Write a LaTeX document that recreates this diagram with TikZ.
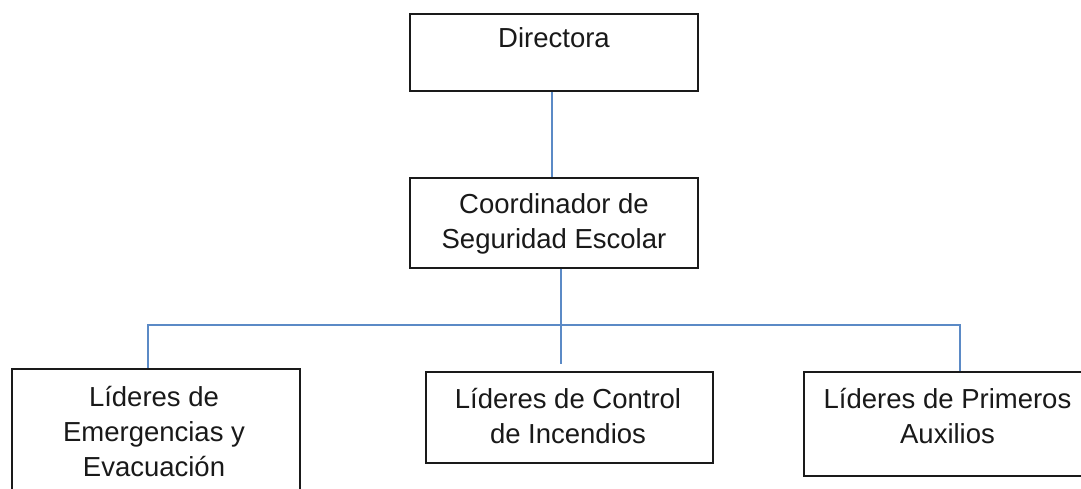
\documentclass[tikz,border=0pt]{standalone}
\usepackage{fontspec}
\setmainfont{Liberation Sans}
\definecolor{conn}{HTML}{5B8AC6}
\definecolor{boxline}{HTML}{1A1A1A}
\begin{document}
\begin{tikzpicture}[x=1pt,y=-1pt,
  orgbox/.style={draw=boxline,line width=1.6pt,rectangle,inner sep=0pt,fill=white},
  lbl/.style={font=\fontsize{27.5}{35}\selectfont,align=center,anchor=base,inner sep=0pt,text=black!90},
  link/.style={draw=conn,line width=1.5pt}]
\useasboundingbox (0,0) rectangle (1081,489);
\clip (0,0) rectangle (1081,489);
\fill[white] (0,0) rectangle (1081,489);
% boxes
\node[orgbox,minimum width=288pt,minimum height=77pt] (dir) at (554,52.5) {};
\node[orgbox,minimum width=288pt,minimum height=90pt] (coord) at (554,223) {};
\node[orgbox,minimum width=288pt,minimum height=126pt] (left) at (156,432) {};
\node[orgbox,minimum width=287pt,minimum height=91pt] (mid) at (569.5,417.5) {};
\node[orgbox,minimum width=287pt,minimum height=104pt] (right) at (947.5,424) {};
% connectors
\coordinate (j) at (561,325);
\draw[link] ([xshift=-2pt]dir.south) -- ([xshift=-2pt]coord.north);
\draw[link] (coord.south -| j) -- (j);
\draw[link] ([xshift=-8pt]left.north) |- (j);
\draw[link] (j) -| ([xshift=12.5pt]right.north);
\draw[link] (j) -- ([yshift=7pt]mid.north -| j);
% texts (anchored at last baseline)
\node[lbl] (tdir) at (554,48) {Directora};
\node[lbl] (tcoord) at (554,248) {Coordinador de\\Seguridad Escolar};
\node[lbl] (tleft) at (154,476) {Líderes de\\Emergencias y\\Evacuación};
\node[lbl] (tmid) at (568,443) {Líderes de Control\\de Incendios};
\node[lbl] (tright) at (947.5,443) {Líderes de Primeros\\Auxilios};
\end{tikzpicture}
\end{document}
